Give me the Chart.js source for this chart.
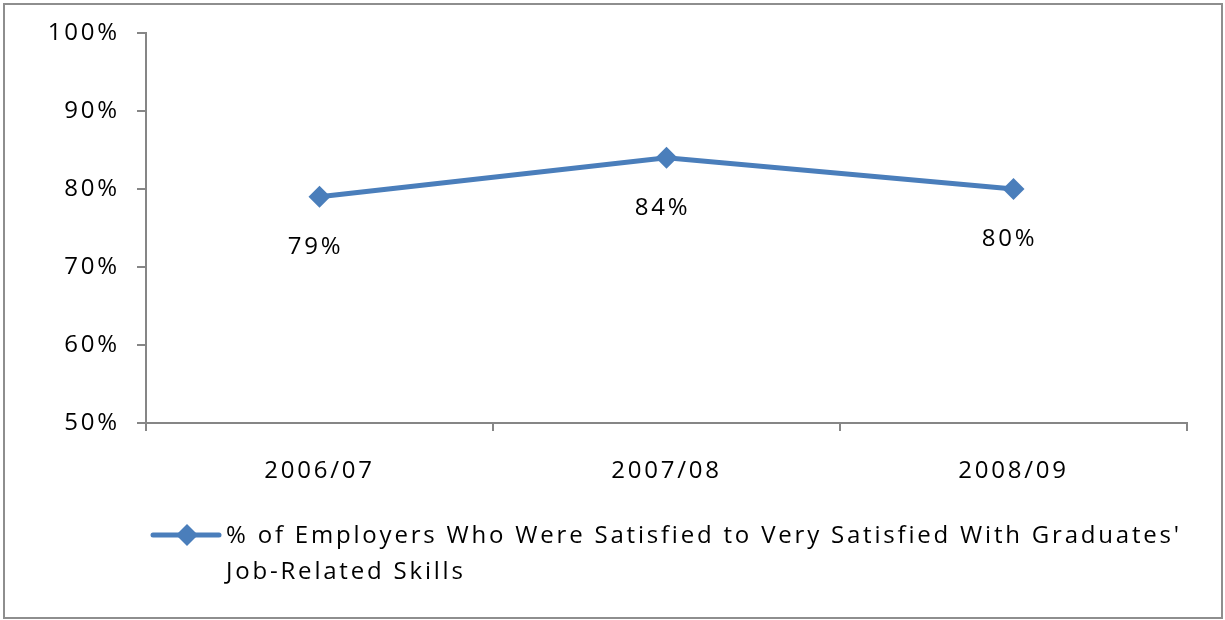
<!DOCTYPE html>
<html>
<head>
<meta charset="utf-8">
<script src="https://cdn.jsdelivr.net/npm/chart.js@4"></script>
<style>
  html, body { margin: 0; padding: 0; background: #fff; }
  canvas { display: block; }
</style>
</head>
<body>
<canvas id="myChart" width="1225" height="620"></canvas>
<script>
// data
const years = ["2006/07", "2007/08", "2008/09"];
const satisfied = [79, 84, 80];
const yTicks = [50, 60, 70, 80, 90, 100];
const seriesLabel = "% of Employers Who Were Satisfied to Very Satisfied With Graduates' Job-Related Skills";

const FONT = "'Open Sans', 'DejaVu Sans', sans-serif";
const SIZE = 24;
const BLUE = "#4a7ebb";
const AXIS = "#868686";
const SPACING = "2.8px";

// excel-ish wide text
const spacing = {
  id: "spacing",
  beforeUpdate(chart) { chart.ctx.letterSpacing = SPACING; },
  beforeDraw(chart) { chart.ctx.letterSpacing = SPACING; },
};

// grey frame round the whole chart
const frame = {
  id: "frame",
  afterDraw(chart) {
    const c = chart.ctx;
    c.save();
    c.strokeStyle = "#8e8e8e";
    c.lineWidth = 2;
    c.strokeRect(4, 4, chart.width - 7, chart.height - 6);
    c.restore();
  },
};

// value labels under each point
const pointLabels = {
  id: "pointLabels",
  afterDatasetsDraw(chart) {
    const c = chart.ctx;
    const meta = chart.getDatasetMeta(0);
    c.save();
    c.font = SIZE + "px " + FONT;
    c.fillStyle = "#000";
    c.textAlign = "center";
    c.textBaseline = "middle";
    meta.data.forEach((pt, i) => {
      c.fillText(satisfied[i] + "%", pt.x - 4, pt.y + 50);
    });
    c.restore();
  },
};

// legend at the bottom, wrapped over two lines
const bottomLegend = {
  id: "bottomLegend",
  afterDraw(chart) {
    const c = chart.ctx;
    const ds = chart.data.datasets[0];
    const y0 = 535;
    c.save();
    c.strokeStyle = ds.borderColor;
    c.lineWidth = 5;
    c.lineCap = "round";
    c.beginPath();
    c.moveTo(153, y0);
    c.lineTo(219, y0);
    c.stroke();
    c.fillStyle = ds.borderColor;
    c.beginPath();
    c.moveTo(187, y0 - 11);
    c.lineTo(198, y0);
    c.lineTo(187, y0 + 11);
    c.lineTo(176, y0);
    c.closePath();
    c.fill();

    c.font = SIZE + "px " + FONT;
    c.fillStyle = "#000";
    c.textBaseline = "middle";
    const maxW = 975;
    const words = ds.label.split(" ");
    const lines = [];
    let cur = "";
    words.forEach((w) => {
      const t = cur ? cur + " " + w : w;
      if (c.measureText(t).width > maxW && cur) {
        lines.push(cur);
        cur = w;
      } else cur = t;
    });
    lines.push(cur);
    lines.forEach((l, i) => c.fillText(l, 226, y0 + 1 + i * 36));
    c.restore();
  },
};

new Chart(document.getElementById("myChart"), {
  type: "line",
  data: {
    labels: years,
    datasets: [
      {
        label: seriesLabel,
        data: satisfied,
        borderColor: BLUE,
        backgroundColor: BLUE,
        borderWidth: 5,
        pointStyle: "rectRot",
        pointRadius: 11,
        pointBorderWidth: 0,
        pointBackgroundColor: BLUE,
        tension: 0,
      },
    ],
  },
  options: {
    responsive: false,
    animation: false,
    layout: { padding: { top: 33, right: 38, left: 0, bottom: 0 } },
    plugins: {
      legend: { display: false },
      tooltip: { enabled: false },
    },
    scales: {
      x: {
        offset: true,
        grid: {
          offset: true,
          drawOnChartArea: false,
          drawTicks: true,
          tickLength: 8,
          color: AXIS,
          lineWidth: 2,
        },
        border: { color: AXIS, width: 2 },
        ticks: {
          color: "#000",
          font: { family: FONT, size: SIZE },
          padding: 26,
        },
        afterFit(scale) { scale.height = 197; },
      },
      y: {
        min: yTicks[0],
        max: yTicks[yTicks.length - 1],
        afterBuildTicks(scale) { scale.ticks = yTicks.map((v) => ({ value: v })); },
        grid: {
          drawOnChartArea: false,
          drawTicks: true,
          tickLength: 9,
          color: AXIS,
          lineWidth: 2,
        },
        border: { color: AXIS, width: 2 },
        ticks: {
          color: "#000",
          font: { family: FONT, size: SIZE },
          padding: 17,
          callback: (v) => v + "%",
        },
        afterFit(scale) { scale.width = 146; },
      },
    },
  },
  plugins: [spacing, pointLabels, bottomLegend, frame],
});
</script>
</body>
</html>
